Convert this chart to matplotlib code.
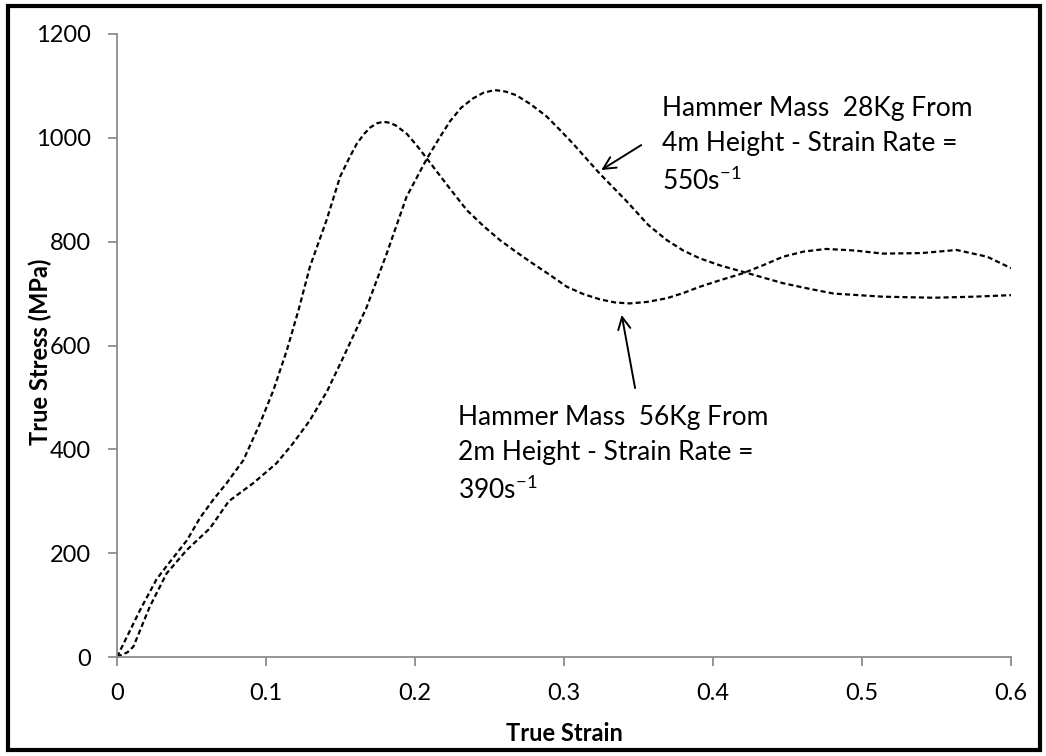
import matplotlib
matplotlib.use('Agg')
import matplotlib.pyplot as plt
from matplotlib.patches import Rectangle

plt.rcParams['font.family'] = ['Lato', 'DejaVu Sans']
plt.rcParams['mathtext.fontset'] = 'custom'
plt.rcParams['mathtext.rm'] = 'Lato'
plt.rcParams['mathtext.it'] = 'Lato'

# 56 kg hammer from 2 m, strain rate 390 1/s
strain_56 = [0, 0.0154, 0.0266, 0.033, 0.047, 0.0557, 0.0646, 0.0736, 0.0848,
             0.096, 0.105, 0.114, 0.122, 0.1295, 0.1407, 0.1497, 0.156, 0.161,
             0.166, 0.170, 0.1745, 0.1787, 0.183, 0.187, 0.1944, 0.201, 0.208,
             0.2224, 0.2347, 0.246, 0.257, 0.268, 0.279, 0.291, 0.302, 0.313,
             0.324, 0.334, 0.344, 0.356, 0.369, 0.38, 0.391, 0.405, 0.420,
             0.434, 0.447, 0.461, 0.476, 0.495, 0.514, 0.54, 0.5635, 0.584, 0.6]
stress_56 = [0, 90, 150, 174, 225, 268, 303, 335, 379,
             450, 514, 591, 670, 752, 842, 925, 962, 989,
             1008, 1020, 1028, 1031, 1029, 1024, 1008, 986, 960,
             906, 861, 830, 803, 780, 758, 735, 713, 699,
             689, 683, 681, 684, 691, 701, 713, 726, 739,
             755, 771, 781, 786, 783, 777, 778, 784, 771, 749]

# 28 kg hammer from 4 m, strain rate 550 1/s
strain_28 = [0, 0.002, 0.007, 0.011, 0.022, 0.0333, 0.0468, 0.0624, 0.075,
             0.0915, 0.107, 0.118, 0.1295, 0.141, 0.152, 0.1676, 0.181, 0.1944,
             0.208, 0.216, 0.2235, 0.231, 0.239, 0.246, 0.2537, 0.261, 0.268,
             0.278, 0.2884, 0.297, 0.306, 0.324, 0.342, 0.3566, 0.369, 0.38,
             0.391, 0.405, 0.420, 0.447, 0.465, 0.481, 0.514, 0.548, 0.575, 0.6]
stress_28 = [0, 3, 9, 20, 97, 161, 206, 248, 300,
             335, 373, 411, 456, 512, 578, 674, 777, 887,
             960, 998, 1032, 1058, 1076, 1087, 1092, 1089, 1082,
             1064, 1041, 1016, 989, 931, 878, 832, 803, 783,
             768, 754, 742, 720, 709, 700, 694, 692, 694, 697]

xticks = [0, 0.1, 0.2, 0.3, 0.4, 0.5, 0.6]
xticklabels = ['0', '0.1', '0.2', '0.3', '0.4', '0.5', '0.6']
yticks = [0, 200, 400, 600, 800, 1000, 1200]

label_28 = 'Hammer Mass  28Kg From\n4m Height - Strain Rate =\n550s$^{-1}$'
label_56 = 'Hammer Mass  56Kg From\n2m Height - Strain Rate =\n390s$^{-1}$'

fig = plt.figure(figsize=(10.46, 7.56), dpi=100)
ax = fig.add_axes([117/1046, 99/756, 894/1046, 623/756])

dash = (2.3, 1.4)
ax.plot(strain_56, stress_56, color='black', lw=1.6, linestyle='--', dashes=dash)
ax.plot(strain_28, stress_28, color='black', lw=1.6, linestyle='--', dashes=dash)

ax.set_xlim(0, 0.6)
ax.set_ylim(0, 1200)
ax.set_xticks(xticks)
ax.set_xticklabels(xticklabels)
ax.set_yticks(yticks)

for s in ['top', 'right']:
    ax.spines[s].set_visible(False)
for s in ['left', 'bottom']:
    ax.spines[s].set_color('#8c8c8c')
    ax.spines[s].set_linewidth(1.3)
ax.tick_params(axis='both', direction='out', length=6.5, width=1.3,
               color='#8c8c8c', labelsize=17, labelcolor='black', pad=12)

ax.set_xlabel('True Strain', fontsize=17, fontweight='bold', va='center')
ax.set_ylabel('True Stress (MPa)', fontsize=17, fontweight='bold', va='center')
ax.xaxis.set_label_coords(0.501, -0.122)
ax.yaxis.set_label_coords(-0.086, 0.49)

ax.text(0.3658, 1080, label_28, fontsize=19, va='top', ha='left', linespacing=1.5)
ax.text(0.2289, 485, label_56, fontsize=19, va='top', ha='left', linespacing=1.5)

ax.annotate('', xy=(0.325, 938), xytext=(0.3518, 986),
            arrowprops=dict(arrowstyle='->', color='black', lw=1.4,
                            mutation_scale=22, shrinkA=0, shrinkB=0))
ax.annotate('', xy=(0.3387, 659), xytext=(0.3477, 518),
            arrowprops=dict(arrowstyle='->', color='black', lw=1.4,
                            mutation_scale=22, shrinkA=0, shrinkB=0))

fig.patches.append(Rectangle((8/1046, 6/756), 1032/1046, 744/756, fill=False,
                             edgecolor='black', lw=3, transform=fig.transFigure))

fig.savefig('out.png', dpi=100)
